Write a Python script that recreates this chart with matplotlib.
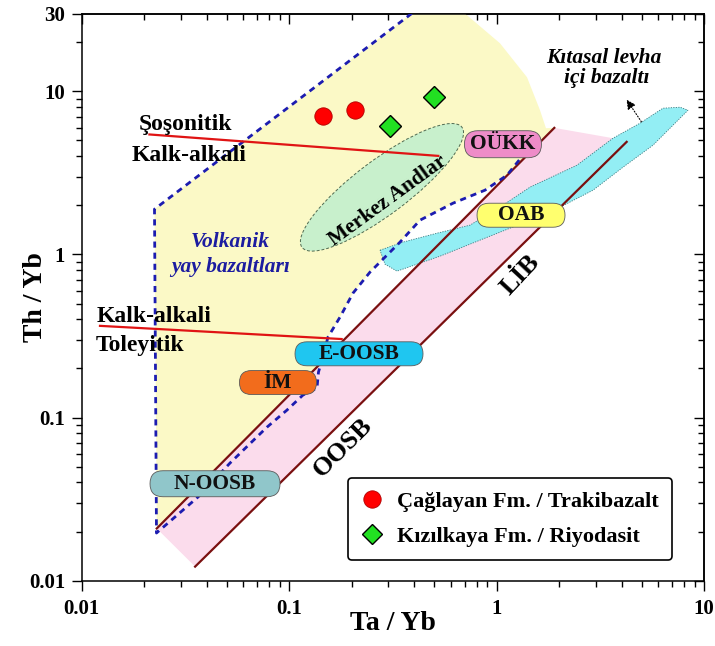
import matplotlib
matplotlib.use("Agg")
import matplotlib.pyplot as plt
from matplotlib.patches import Polygon, FancyBboxPatch, Ellipse
from matplotlib.transforms import ScaledTranslation
from matplotlib.lines import Line2D

plt.rcParams['font.family'] = ['Liberation Serif', 'DejaVu Serif']
plt.rcParams['font.weight'] = 'bold'

# ---------------- sample data ----------------
caglayan_ta_yb = [0.146, 0.207]
caglayan_th_yb = [7.07, 7.66]
kizilkaya_ta_yb = [0.306, 0.500]
kizilkaya_th_yb = [6.11, 9.17]

# ---------------- MORB-OIB array ----------------
morb_upper_ta = [0.0230, 1.895]
morb_upper_th = [0.0209, 5.97]
morb_lower_ta = [0.0352, 4.23]
morb_lower_th = [0.0122, 4.90]
array_ta = [0.0230, 1.895, 3.635, 4.23, 0.0352]
array_th = [0.0209, 5.97, 5.16, 4.90, 0.0122]

# ---------------- volcanic arc field ----------------
arc_line_ta = [0.3895, 0.02243, 0.02293, 0.03635, 0.05184, 0.0782, 0.09759,
               0.1165, 0.1361, 0.1384, 0.1439, 0.1538, 0.1757, 0.2030, 0.2451,
               0.2831, 0.342, 0.4271, 0.6159, 0.878, 1.121, 1.341]
arc_line_th = [30, 1.895, 0.0196, 0.03258, 0.05262, 0.0874, 0.1112,
               0.1374, 0.1517, 0.19, 0.2251, 0.3114, 0.4128, 0.5793, 0.7791,
               0.9359, 1.190, 1.623, 2.062, 2.477, 3.061, 4.06]
arc_field_ta = [0.0230, 0.02243, 0.3895, 0.7035, 1.037, 1.40, 1.617, 1.728,
                1.895, 1.372, 1.121, 0.878, 0.6159, 0.4271, 0.342, 0.2831,
                0.2451, 0.2030, 0.1757, 0.1538, 0.1439, 0.1418]
arc_field_th = [0.0209, 1.895, 30, 30, 19.71, 12.2, 7.66, 5.94,
                5.97, 3.948, 3.061, 2.477, 2.062, 1.623, 1.190, 0.9359,
                0.7791, 0.5793, 0.4128, 0.3114, 0.2251, 0.2158]

# ---------------- continental intraplate field ----------------
intraplate_ta = [0.274, 0.3534, 0.5158, 0.7435, 1.037, 1.447, 2.438, 3.635,
                 4.905, 6.33, 7.645, 8.355, 7.395, 5.665, 4.062, 2.912, 2.019,
                 1.295, 0.831, 0.533, 0.3307, 0.2895]
intraplate_th = [1.062, 1.190, 1.350, 1.512, 1.949, 2.585, 3.526, 5.16,
                 6.375, 7.88, 7.99, 7.66, 6.56, 4.675, 3.427, 2.477, 1.949,
                 1.533, 1.224, 0.976, 0.790, 0.872]

# ---------------- series boundaries ----------------
shoshonitic_ta = [0.0212, 0.523]
shoshonitic_th = [5.44, 4.02]
tholeiitic_ta = [0.01225, 0.179]
tholeiitic_th = [0.365, 0.303]

# Central Andes field centre
andes_center = (0.280, 2.58)

# reference compositions
ref_names = ['OÜKK', 'OAB', 'E-OOSB', 'İM', 'N-OOSB']
ref_ta = [1.072, 1.31, 0.217, 0.0883, 0.0439]
ref_th = [4.74, 1.74, 0.246, 0.164, 0.0393]
ref_colors = ['#ee8cc8', '#ffff6e', '#1fc6f0', '#f26c1c', '#90c6ca']
ref_sizes = [(77, 27), (88, 24), (128, 24), (77, 24), (130, 26)]

x_ticks = [0.01, 0.1, 1, 10]
x_ticklabels = ['0.01', '0.1', '1', '10']
y_ticks = [0.01, 0.1, 1, 10, 30]
y_ticklabels = ['0.01', '0.1', '1', '10', '30']

fig = plt.figure(figsize=(7.15, 6.46), dpi=100)
ax = fig.add_axes([0.11427, 0.10108, 0.8706, 0.87802])
ax.set_xscale('log')
ax.set_yscale('log')
ax.set_xlim(0.01, 10)
ax.set_ylim(0.01, 30)

# fields
ax.add_patch(Polygon(list(zip(arc_field_ta, arc_field_th)), closed=True,
                     facecolor='#fbf9c6', edgecolor='none', zorder=1))
ax.add_patch(Polygon(list(zip(array_ta, array_th)), closed=True,
                     facecolor='#fbdcec', edgecolor='none', zorder=1.2))
ax.add_patch(Polygon(list(zip(intraplate_ta, intraplate_th)), closed=True,
                     facecolor='#93eef4', edgecolor='#3a7a80', lw=0.6,
                     linestyle=(0, (1.5, 1.5)), zorder=2))

andes_tr = fig.dpi_scale_trans + ScaledTranslation(andes_center[0], andes_center[1], ax.transData)
ax.add_patch(Ellipse((0, 0), width=2.0, height=0.54, angle=36.9,
                     transform=andes_tr, facecolor='#c8f0cc',
                     edgecolor='#506a50', lw=0.7, linestyle=(0, (3, 2)), zorder=2))

# array bounds
ax.plot(morb_upper_ta, morb_upper_th, color='#7a1010', lw=1.6, zorder=3)
ax.plot(morb_lower_ta, morb_lower_th, color='#7a1010', lw=1.6, zorder=3)

# arc boundary
ax.plot(arc_line_ta, arc_line_th, color='#1c1cb0', lw=2.0,
        linestyle=(0, (2.2, 1.8)), zorder=3.5)

# series boundaries
ax.plot(shoshonitic_ta, shoshonitic_th, color='#e01414', lw=1.6, zorder=4)
ax.plot(tholeiitic_ta, tholeiitic_th, color='#e01414', lw=1.6, zorder=4)

# reference compositions as pills
for name, x, y, col, (w, h) in zip(ref_names, ref_ta, ref_th, ref_colors, ref_sizes):
    tr = fig.dpi_scale_trans + ScaledTranslation(x, y, ax.transData)
    wi, hi = w / 100, h / 100
    ax.add_patch(FancyBboxPatch((-wi / 2, -hi / 2), wi, hi,
                                boxstyle=f'round,pad=0,rounding_size={hi / 2}',
                                transform=tr, facecolor=col, edgecolor='#5a5a5a',
                                lw=0.6, zorder=5))
    ax.text(x, y, name, ha='center', va='center', fontsize=15.5,
            fontweight='bold', color='#111111', zorder=5.5)

# samples
ax.plot(caglayan_ta_yb, caglayan_th_yb, 'o', ms=12.5, mfc='#ff0000',
        mec='#b00000', mew=0.6, zorder=6)
ax.plot(kizilkaya_ta_yb, kizilkaya_th_yb, 'D', ms=11, mfc='#22e022',
        mec='#000000', mew=1.0, zorder=6)

# arrow towards intraplate label
ax.annotate('', xy=(4.153, 9.2), xytext=(5.07, 6.29),
            arrowprops=dict(arrowstyle='-|>', linestyle=':', lw=0.8,
                            color='black', mutation_scale=14), zorder=6)

# field labels
txt = dict(ha='center', va='center', fontweight='bold', zorder=7)
ax.text(0.0315, 6.29, 'Şoşonitik', fontsize=17, **txt)
ax.text(0.0329, 4.06, 'Kalk-alkali', fontsize=17, **txt)
ax.text(0.0223, 0.419, 'Kalk-alkali', fontsize=17, **txt)
ax.text(0.0191, 0.278, 'Toleyitik', fontsize=17, **txt)
ax.text(0.0519, 1.19, 'Volkanik', fontsize=15.5, style='italic', color='#1c1ca0', **txt)
ax.text(0.0519, 0.836, 'yay bazaltları', fontsize=15.5, style='italic', color='#1c1ca0', **txt)
ax.text(0.299, 2.15, 'Merkez Andlar', fontsize=15.5, rotation=36,
        rotation_mode='anchor', **txt)
ax.text(3.29, 15.96, 'Kıtasal levha', fontsize=15.5, style='italic', **txt)
ax.text(3.40, 12.0, 'içi bazaltı', fontsize=15.5, style='italic', **txt)
ax.text(1.294, 0.746, 'LİB', fontsize=19, rotation=47, rotation_mode='anchor', **txt)
ax.text(0.1815, 0.0655, 'OOSB', fontsize=19, rotation=45, rotation_mode='anchor', **txt)

# axes styling
for s in ax.spines.values():
    s.set_linewidth(1.1)
ax.set_xticks(x_ticks)
ax.set_xticklabels(x_ticklabels)
ax.set_yticks(y_ticks)
ax.set_yticklabels(y_ticklabels)
x_minor = [m * d for d in (0.01, 0.1, 1) for m in range(2, 10)]
y_minor = [m * d for d in (0.01, 0.1, 1) for m in range(2, 10)] + [20]
ax.set_xticks(x_minor, minor=True)
ax.set_yticks(y_minor, minor=True)
ax.xaxis.set_minor_formatter(plt.NullFormatter())
ax.yaxis.set_minor_formatter(plt.NullFormatter())
ax.tick_params(which='major', direction='out', length=7, width=1.0, labelsize=15)
ax.tick_params(which='minor', direction='out', length=4, width=1.0)
ax.tick_params(axis='x', which='major', pad=6)
ax.tick_params(axis='y', which='major', pad=5)

secx = ax.secondary_xaxis('top')
secx.set_xticks(x_ticks)
secx.set_xticks(x_minor, minor=True)
secx.tick_params(which='major', direction='in', length=7, width=1.0, labeltop=False)
secx.tick_params(which='minor', direction='in', length=4, width=1.0)
secx.xaxis.set_minor_formatter(plt.NullFormatter())
secx.spines['top'].set_linewidth(1.1)
secy = ax.secondary_yaxis('right')
secy.set_yticks(y_ticks)
secy.set_yticks(y_minor, minor=True)
secy.tick_params(which='major', direction='in', length=7, width=1.0, labelright=False)
secy.tick_params(which='minor', direction='in', length=4, width=1.0)
secy.yaxis.set_minor_formatter(plt.NullFormatter())
secy.spines['right'].set_linewidth(1.1)

ax.set_xlabel('Ta / Yb', fontsize=20, fontweight='bold')
ax.set_ylabel('Th / Yb', fontsize=20, fontweight='bold')
ax.xaxis.set_label_coords(0.5, -0.0534)
ax.yaxis.set_label_coords(-0.0541, 0.5)

# legend
handles = [
    Line2D([], [], marker='o', ls='none', ms=12.5, mfc='#ff0000', mec='#b00000', mew=0.6),
    Line2D([], [], marker='D', ls='none', ms=10, mfc='#22e022', mec='#000000', mew=1.0),
]
labels = ['Çağlayan Fm. / Trakibazalt', 'Kızılkaya Fm. / Riyodasit']
leg = ax.legend(handles, labels, loc='lower right', bbox_to_anchor=(0.9483, 0.0365),
                borderaxespad=0, prop={'weight': 'bold', 'size': 16},
                frameon=True, fancybox=True, framealpha=1, edgecolor='black',
                handlelength=1.0, handletextpad=0.6, labelspacing=0.65,
                borderpad=0.6)
leg.get_frame().set_linewidth(1.2)
leg.set_zorder(8)

fig.savefig('out.png', dpi=100)
